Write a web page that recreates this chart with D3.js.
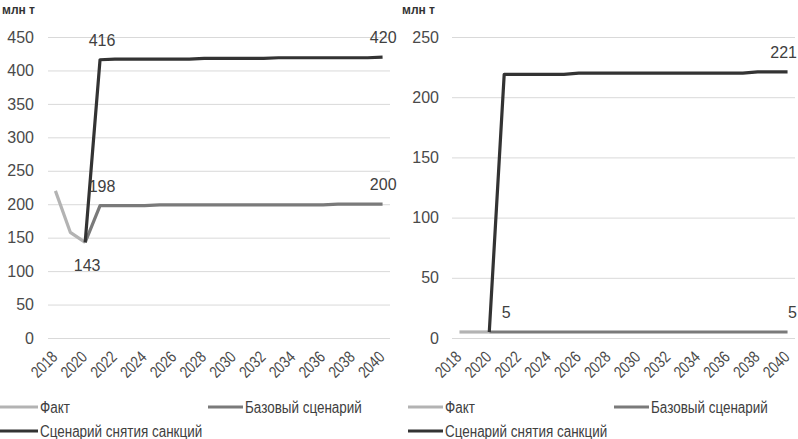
<!DOCTYPE html>
<html><head><meta charset="utf-8">
<script src="https://cdn.jsdelivr.net/npm/d3@7"></script>
<style>body{margin:0;background:#fff}svg{display:block}text{font-family:"Liberation Sans",Arial,sans-serif}</style>
</head><body>
<svg id="c" width="798" height="439"></svg>
<script>
const years = [2018,2019,2020,2021,2022,2023,2024,2025,2026,2027,2028,2029,2030,2031,2032,2033,2034,2035,2036,2037,2038,2039,2040];
const tickYears = [2018,2020,2022,2024,2026,2028,2030,2032,2034,2036,2038,2040];
const seriesNames = ["Факт","Базовый сценарий","Сценарий снятия санкций"];
const unitLabel = "млн т";

// Left panel (values from 2018 for fact, from 2020 for scenarios)
const leftFact = [220,158,143];
const leftBase = [143,198,198,198,198,199,199,199,199,199,199,199,199,199,199,199,199,200,200,200,200];
const leftLift = [143,416,417,417,417,417,417,417,418,418,418,418,418,419,419,419,419,419,419,419,420];
const leftTicks = [0,50,100,150,200,250,300,350,400,450];
const leftLabels = [
  {series:2, year:2021, text:"416", pos:"above"},
  {series:2, year:2040, text:"420", pos:"above"},
  {series:1, year:2021, text:"198", pos:"above"},
  {series:1, year:2040, text:"200", pos:"above"},
  {series:0, year:2020, text:"143", pos:"below"}
];

// Right panel
const rightFact = [5,5,5];
const rightBase = [5,5,5,5,5,5,5,5,5,5,5,5,5,5,5,5,5,5,5,5,5];
const rightLift = [5,219,219,219,219,219,220,220,220,220,220,220,220,220,220,220,220,220,221,221,221];
const rightTicks = [0,50,100,150,200,250];
const rightLabels = [
  {series:2, year:2040, text:"221", pos:"above"},
  {series:1, year:2021, text:"5", pos:"above"},
  {series:1, year:2040, text:"5", pos:"above"}
];

const colors = ["#b3b3b3","#7a7a7a","#333333"];
const svg = d3.select("#c");

function condense(sel, f){
  sel.each(function(){
    const w = this.getComputedTextLength();
    d3.select(this).attr("textLength", w*f).attr("lengthAdjust","spacingAndGlyphs");
  });
}

function panel(ox, factV, baseV, liftV, ticks, labels, opt){
  const g = svg.append("g").attr("transform",`translate(${ox},0)`);
  const left = opt.plotLeft, right = opt.plotRight;
  const x = d3.scaleBand().domain(years).range([left,right]);
  const cx = yr => x(yr) + x.bandwidth()/2;
  const y = d3.scaleLinear().domain([0, ticks[ticks.length-1]]).range([338,37]);

  g.append("g").selectAll("line").data(ticks).join("line")
    .attr("x1",left).attr("x2",right).attr("y1",d=>y(d)+0.5).attr("y2",d=>y(d)+0.5)
    .attr("stroke","#d9d9d9").attr("stroke-width",1);

  const ya = d3.axisLeft(y).tickValues(ticks).tickSize(0).tickPadding(0);
  const yg = g.append("g").attr("transform",`translate(${opt.yLabelX},0)`).call(ya);
  yg.select(".domain").remove();
  yg.selectAll("text").attr("font-size",16).attr("fill","#4a4a4a").attr("font-family","'Liberation Sans',Arial,sans-serif");

  const xa = d3.axisBottom(x).tickValues(tickYears).tickSize(0).tickPadding(0);
  const xg = g.append("g").attr("transform","translate(0,348)").call(xa);
  xg.select(".domain").remove();
  const xt = xg.selectAll("text").attr("font-size",16.5).attr("fill","#4a4a4a")
    .attr("font-family","'Liberation Sans',Arial,sans-serif")
    .attr("text-anchor","end").attr("dy","0.35em")
    .attr("transform","translate(-1,6) rotate(-45)");
  condense(xt, 0.8);

  const series = [
    {v:factV, start:2018},
    {v:baseV, start:2020},
    {v:liftV, start:2020}
  ];
  const line = d3.line().x(d=>cx(d.year)).y(d=>y(d.value));
  series.forEach((s,i)=>{
    const pts = s.v.map((v,k)=>({year:s.start+k, value:v}));
    s.pts = pts;
    g.append("path").datum(pts).attr("d",line).attr("fill","none")
      .attr("stroke",colors[i]).attr("stroke-width",3.2).attr("stroke-linejoin","round");
  });

  labels.forEach(l=>{
    const p = series[l.series].pts.find(d=>d.year===l.year);
    const last = l.year===years[years.length-1];
    g.append("text")
      .attr("x", last ? Math.min(cx(p.year)+14, 397) : cx(p.year)+2)
      .attr("y", l.pos==="above"? y(p.value)-14 : y(p.value)+29)
      .attr("text-anchor", last ? "end" : "middle")
      .attr("font-size",16).attr("fill","#404040").text(l.text);
  });

  g.append("text").attr("x",2).attr("y",14).attr("font-size",12).attr("font-weight","bold")
    .attr("fill","#333").text(unitLabel);

  opt.legend.forEach((it,i)=>{
    g.append("line").attr("x1",it.x).attr("x2",it.x+it.len).attr("y1",it.y).attr("y2",it.y)
      .attr("stroke",colors[i]).attr("stroke-width",3);
    const t = g.append("text").attr("x",it.x+it.len+2).attr("y",it.y+6).attr("font-size",16)
      .attr("fill","#404040").text(seriesNames[i]);
    condense(t, 0.84);
  });
}

panel(0, leftFact, leftBase, leftLift, leftTicks, leftLabels, {
  plotLeft:48, plotRight:390, yLabelX:34,
  legend:[{x:0,y:407,len:38},{x:208,y:407,len:35},{x:0,y:431,len:38}]
});
panel(400, rightFact, rightBase, rightLift, rightTicks, rightLabels, {
  plotLeft:52, plotRight:395, yLabelX:39,
  legend:[{x:8,y:407,len:35},{x:214,y:407,len:35},{x:8,y:431,len:35}]
});
</script>
</body></html>
